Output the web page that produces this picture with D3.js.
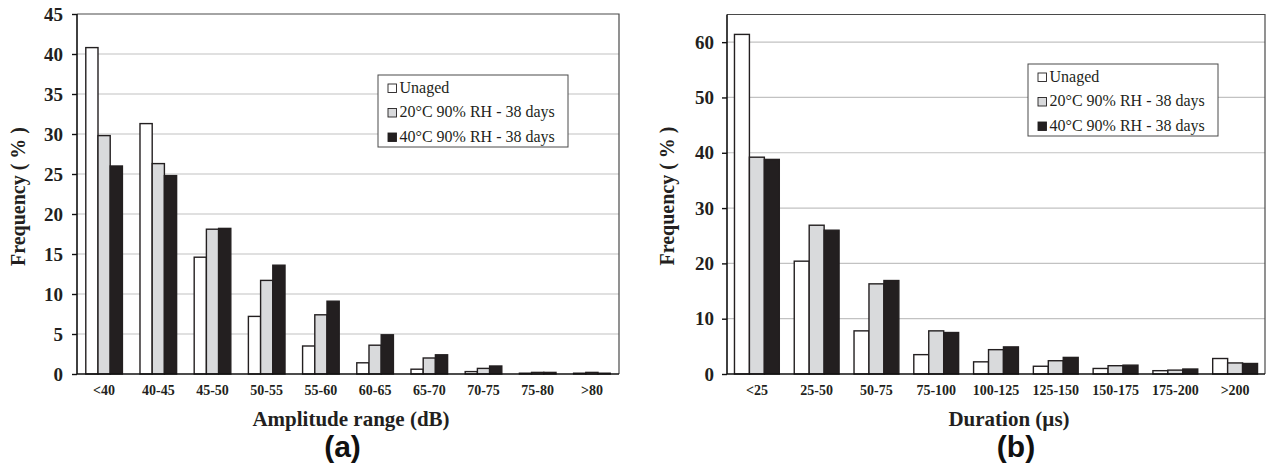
<!DOCTYPE html>
<html>
<head>
<meta charset="utf-8">
<script src="https://cdn.jsdelivr.net/npm/d3@7"></script>
<style>
  body { margin: 0; background: #fff; }
  svg { display: block; }
</style>
</head>
<body>
<div id="chart"><svg width="1272" height="471"></svg></div>
<script>
// series shared by both panels
const SERIES = ['Unaged', '20°C 90% RH - 38 days', '40°C 90% RH - 38 days'];
const FILLS = ['#ffffff', '#d9dadc', '#231f20'];

// panel (a) - amplitude
const AMP_CATS = ['<40', '40-45', '45-50', '50-55', '55-60', '60-65', '65-70', '70-75', '75-80', '>80'];
const AMP_UNAGED = [40.8, 31.3, 14.6, 7.2, 3.5, 1.4, 0.6, 0.3, 0.1, 0.1];
const AMP_20C = [29.8, 26.3, 18.1, 11.7, 7.4, 3.6, 2.0, 0.7, 0.2, 0.2];
const AMP_40C = [26.0, 24.8, 18.2, 13.6, 9.1, 4.9, 2.4, 1.0, 0.2, 0.1];
const AMP_TICKS = [0, 5, 10, 15, 20, 25, 30, 35, 40, 45];

// panel (b) - duration
const DUR_CATS = ['<25', '25-50', '50-75', '75-100', '100-125', '125-150', '150-175', '175-200', '>200'];
const DUR_UNAGED = [61.4, 20.4, 7.8, 3.5, 2.2, 1.4, 1.0, 0.6, 2.8];
const DUR_20C = [39.2, 26.9, 16.3, 7.8, 4.4, 2.4, 1.5, 0.7, 2.0];
const DUR_40C = [38.8, 26.0, 16.9, 7.5, 4.9, 3.0, 1.6, 0.9, 1.9];
const DUR_TICKS = [0, 10, 20, 30, 40, 50, 60];

const SVG = d3.select('#chart svg');
const SERIF = "'Liberation Serif', 'Times New Roman', serif";
const INK = '#231f20';

function drawPanel(p) {
  const g = SVG.append('g');

  const Y_SCALE = d3.scaleLinear().domain([0, p.yMax]).range([p.bottom, p.top]);
  const X0 = d3.scaleBand().domain(p.cats).range([p.left, p.right]);
  const X1 = d3.scaleBand().domain(d3.range(SERIES.length))
    .range([0, X0.bandwidth()]).paddingOuter(p.pad);

  // grid lines
  g.append('g')
    .selectAll('line')
    .data(p.ticks.filter((t) => t > 0 && t < p.yMax))
    .join('line')
    .attr('x1', p.left).attr('x2', p.right)
    .attr('y1', (d) => Y_SCALE(d)).attr('y2', (d) => Y_SCALE(d))
    .style('stroke', '#c2c2c2')
    .style('stroke-width', 1.2);

  // frame top + right
  g.append('path')
    .attr('d', `M${p.left},${p.top}H${p.right}V${p.bottom}`)
    .style('fill', 'none')
    .style('stroke', '#4a4a4a')
    .style('stroke-width', 1.2);

  // bars
  const rows = [p.s0, p.s1, p.s2];
  p.cats.forEach((cat, ci) => {
    rows.forEach((vals, si) => {
      g.append('rect')
        .attr('x', X0(cat) + X1(si))
        .attr('y', Y_SCALE(vals[ci]))
        .attr('width', X1.bandwidth())
        .attr('height', p.bottom - Y_SCALE(vals[ci]))
        .style('fill', FILLS[si])
        .style('stroke', INK)
        .style('stroke-width', 1.4);
    });
  });

  // y axis
  const Y_AXIS = d3.axisLeft(Y_SCALE).tickValues(p.ticks).tickSize(5).tickPadding(p.yPad);
  const Y_AXIS_G = g.append('g').attr('transform', `translate(${p.left},0)`);
  Y_AXIS(Y_AXIS_G);
  Y_AXIS_G.select('.domain').attr('d', `M0,${p.top}V${p.bottom}`).style('stroke', '#111').style('stroke-width', 1.6);
  Y_AXIS_G.selectAll('.tick line').style('stroke', '#111').style('stroke-width', 1.4);
  Y_AXIS_G.selectAll('text')
    .style('font-family', SERIF)
    .style('font-weight', 'bold')
    .style('font-size', '19px')
    .style('fill', INK);

  // x axis
  const X_AXIS = d3.axisBottom(X0).tickSize(0).tickPadding(11);
  const X_AXIS_G = g.append('g').attr('transform', `translate(0,${p.bottom})`);
  X_AXIS(X_AXIS_G);
  X_AXIS_G.select('.domain').attr('d', `M${p.left},0H${p.right}`).style('stroke', '#111').style('stroke-width', 1.6);
  X_AXIS_G.selectAll('text')
    .style('font-family', SERIF)
    .style('font-weight', 'bold')
    .style('font-size', '14px')
    .style('fill', INK);

  // axis titles
  g.append('text')
    .attr('x', p.xTitleX).attr('y', 426)
    .attr('text-anchor', 'middle')
    .style('font-family', SERIF).style('font-weight', 'bold').style('font-size', '21px')
    .style('fill', INK)
    .text(p.xTitle);

  g.append('text')
    .attr('transform', `translate(${p.yTitleX},${p.yTitleY}) rotate(-90)`)
    .attr('text-anchor', 'middle')
    .style('font-family', SERIF).style('font-weight', 'bold').style('font-size', '20px')
    .style('fill', INK)
    .text('Frequency ( % )');

  g.append('text')
    .attr('x', p.labelX).attr('y', 456.5)
    .attr('text-anchor', 'middle')
    .style('font-family', "'Liberation Sans', Arial, sans-serif").style('font-weight', 'bold').style('font-size', '30px')
    .style('fill', '#111')
    .text(p.label);

  // legend
  const LEG = g.append('g').attr('transform', `translate(${p.legX},${p.legY})`);
  LEG.append('rect')
    .attr('width', 190).attr('height', 72)
    .style('fill', '#fff').style('stroke', '#4a4a4a').style('stroke-width', 1);
  SERIES.forEach((name, i) => {
    LEG.append('rect')
      .attr('x', 10).attr('y', 9 + i * 24.5)
      .attr('width', 8.5).attr('height', 8.5)
      .style('fill', FILLS[i]).style('stroke', INK).style('stroke-width', 0.9);
    LEG.append('text')
      .attr('x', 21.5).attr('y', 17.5 + i * 24.5)
      .style('font-family', SERIF).style('font-size', '16px')
      .style('fill', INK)
      .text(name);
  });
}

drawPanel({
  cats: AMP_CATS, s0: AMP_UNAGED, s1: AMP_20C, s2: AMP_40C, ticks: AMP_TICKS,
  yMax: 45, left: 77, right: 619, top: 14, bottom: 374, pad: 0.72, yPad: 9,
  xTitle: 'Amplitude range (dB)', xTitleX: 351, label: '(a)', labelX: 342.5,
  yTitleX: 24.5, yTitleY: 196.5, legX: 378, legY: 75,
});

drawPanel({
  cats: DUR_CATS, s0: DUR_UNAGED, s1: DUR_20C, s2: DUR_40C, ticks: DUR_TICKS,
  yMax: 65, left: 727, right: 1265, top: 14.5, bottom: 374, pad: 0.5, yPad: 8,
  xTitle: 'Duration (µs)', xTitleX: 1009, label: '(b)', labelX: 1016,
  yTitleX: 674, yTitleY: 196, legX: 1028, legY: 64,
});
</script>
</body>
</html>
